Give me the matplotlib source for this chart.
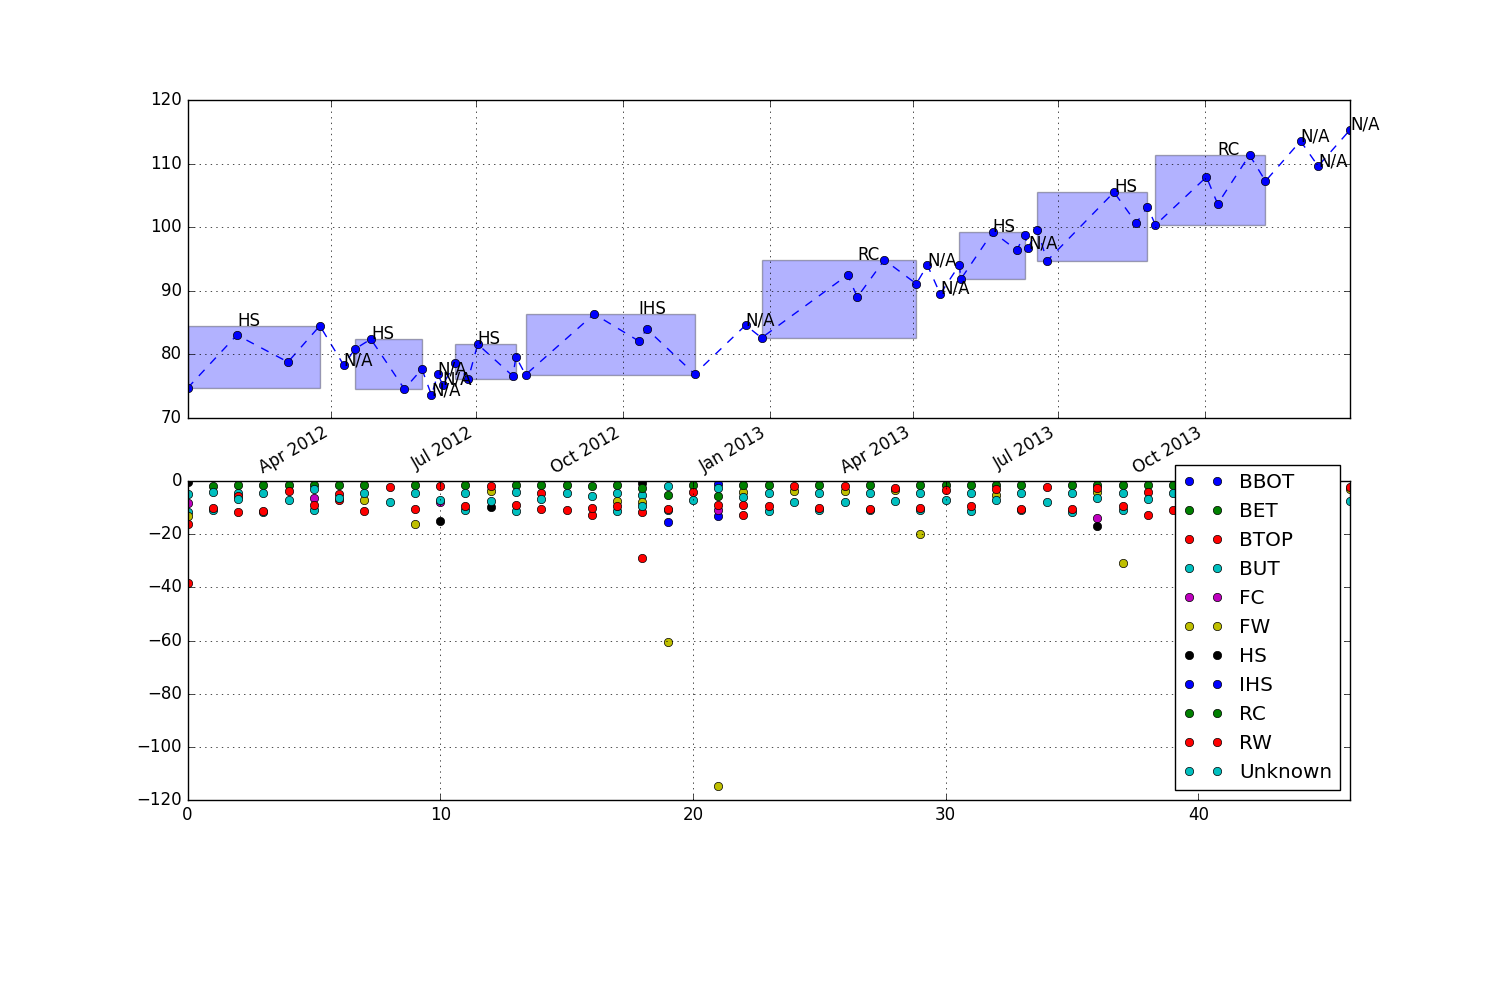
import numpy as np
import matplotlib
matplotlib.use('Agg')
import matplotlib.pyplot as plt
import matplotlib.dates as mdates
from matplotlib.patches import Rectangle
import datetime as dt

plt.style.use('classic')

N = np.nan

# ---------------- top panel data ----------------
date_strs = ['2012-01-02', '2012-02-02', '2012-03-05', '2012-03-25', '2012-04-09',
             '2012-04-16', '2012-04-26', '2012-05-17', '2012-05-28', '2012-06-03',
             '2012-06-07', '2012-06-10', '2012-06-18', '2012-06-26', '2012-07-02',
             '2012-07-24', '2012-07-26', '2012-08-01', '2012-09-13', '2012-10-11',
             '2012-10-16', '2012-11-15', '2012-12-17', '2012-12-27', '2013-02-19',
             '2013-02-25', '2013-03-14', '2013-04-03', '2013-04-10', '2013-04-18',
             '2013-04-30', '2013-05-01', '2013-05-21', '2013-06-05', '2013-06-10',
             '2013-06-12', '2013-06-18', '2013-06-24', '2013-08-05', '2013-08-19',
             '2013-08-26', '2013-08-31', '2013-10-02', '2013-10-09', '2013-10-29',
             '2013-11-08', '2013-11-30', '2013-12-11', '2013-12-31']
prices = [74.7, 83.05, 78.8, 84.5, 78.3,
          80.85, 82.4, 74.56, 77.7, 73.6,
          76.9, 75.2, 78.65, 76.1, 81.6,
          76.6, 79.6, 76.8, 86.35, 82.1,
          84.0, 76.9, 84.6, 82.6, 92.5,
          89.0, 94.85, 91.1, 94.05, 89.5,
          94.05, 91.85, 99.25, 96.4, 98.8,
          96.7, 99.55, 94.7, 105.5, 100.65,
          103.2, 100.35, 107.9, 103.65, 111.35,
          107.25, 113.55, 109.6, 115.3]

pattern_names = ['HS', 'HS', 'HS', 'IHS', 'RC', 'HS', 'HS', 'RC']
pattern_start = [0, 5, 12, 17, 23, 30, 36, 41]
pattern_end = [3, 8, 16, 21, 27, 34, 40, 45]
pattern_label_at = [1, 6, 14, 19, 25, 32, 38, 43]
na_idx = [4, 9, 10, 11, 22, 28, 29, 35, 46, 47, 48]
na_text = 'N/A'

date_ticks_months = [1, 4, 7, 10]

# ---------------- bottom panel data ----------------
series_names = ['BBOT', 'BET', 'BTOP', 'BUT', 'FC', 'FW', 'HS', 'IHS', 'RC', 'RW', 'Unknown']
n_obs = 47

BBOT = [N]*21 + [-13.1] + [N]*25
BET = [N]*19 + [-5.3, N, -5.5] + [N]*25
BTOP = [-38.5, N, -11.5, N, N, N, -7.2, N, N, N,
        N, N, N, N, -10.5, N, -12.7, N, -29.0, N,
        N, N, -12.7, N, N, N, N, N, N, N,
        N, N, N, N, N, N, N, N, -12.7, N,
        N, N, -12.0, N, N, N, N]
BUT = [-11.5, -11.0, -4.5, -11.5, N, -10.9, N, N, N, N,
       N, -11.0, N, -11.4, N, N, N, -11.4, -5.1, -11.0,
       N, N, N, -11.4, N, -11.0, N, -11.0, N, -11.0,
       N, -11.4, N, -11.0, N, -11.8, N, -11.0, N, N,
       N, -11.0, N, -11.0, N, -11.0, N]
FC = [-8.4, N, N, N, N, -6.5, N, N, N, N,
      -8.0, N, N, N, N, N, N, N, N, N,
      N, -11.0, N, N, N, N, N, N, N, N,
      N, N, N, N, N, N, -13.9, N, N, N,
      N, N, N, N, N, N, N]
FW = [-13.0, N, N, N, N, N, N, -7.1, N, -16.3,
      N, N, -3.6, N, N, N, N, -7.4, -8.0, -60.5,
      N, -114.7, -4.3, N, -3.9, N, -3.6, N, -3.3, -20.0,
      N, N, -5.1, N, N, N, -4.3, -31.0, N, N,
      -3.5, N, N, N, -3.5, N, -3.0]
HS = [-0.3, N, N, N, N, N, N, N, N, N,
      -15.0, N, -9.9, N, N, N, N, N, -0.8, N,
      N, N, N, N, N, N, N, N, N, N,
      N, N, N, N, N, N, -17.0, N, N, N,
      N, N, N, N, N, N, N]
IHS = [N]*19 + [-15.4, N, -1.0] + [N]*25
RC = [N, -1.9, -1.6, -1.6, -1.6, -1.5, -1.5, -1.5, N, -1.5,
      N, -1.5, N, -1.5, -1.5, -1.5, -2.0, -1.5, -2.5, N,
      -1.5, N, -1.6, -1.5, N, -1.5, N, -1.5, N, -1.5,
      -1.5, -1.5, -1.5, -1.5, N, -1.5, -1.5, -1.5, -1.5, -1.5,
      N, -1.5, -1.5, -1.5, N, -1.5, N]
RW = [-16.0, -10.2, -5.5, -11.2, -3.6, -8.9, -4.9, -11.2, -2.4, -10.6,
      -1.9, -9.5, -1.9, -8.9, -4.5, -10.9, -10.2, -9.3, -11.5, -10.4,
      -4.0, -9.0, -8.9, -9.5, -2.0, -10.2, -2.0, -10.5, -2.5, -10.3,
      -3.4, -9.5, -3.0, -10.5, -2.3, -10.4, -2.8, -9.3, -4.3, -10.9,
      -2.0, -10.5, -4.0, -10.0, -2.0, -10.5, -2.3]
Unknown = [-4.9, -4.0, -6.8, -4.5, -7.0, -3.0, -6.5, -4.6, -8.0, -4.5,
           -7.1, -4.5, -7.4, -4.3, -6.8, -4.5, -5.5, -4.5, -9.4, -1.8,
           -7.1, -2.6, -6.1, -4.5, -8.0, -4.5, -8.0, -4.5, -7.6, -4.5,
           -7.1, -4.5, -7.1, -4.5, -8.0, -4.5, -6.4, -4.5, -6.8, -4.5,
           -7.5, -4.5, -6.8, -4.5, -7.5, -4.5, -7.6]
series_vals = [BBOT, BET, BTOP, BUT, FC, FW, HS, IHS, RC, RW, Unknown]

# ---------------- figure ----------------
fig = plt.figure(figsize=(15, 10), dpi=100, facecolor='white')
ax1 = fig.add_axes([0.125, 0.582, 0.775, 0.318])
ax2 = fig.add_axes([0.125, 0.2, 0.775, 0.319])

dates = [dt.datetime.strptime(s, '%Y-%m-%d') for s in date_strs]
xnum = mdates.date2num(dates)

ax1.plot(dates, prices, 'bo--')
for name, s, e, li in zip(pattern_names, pattern_start, pattern_end, pattern_label_at):
    seg = prices[s:e + 1]
    lo, hi = min(seg), max(seg)
    ax1.add_patch(Rectangle((xnum[s], lo), xnum[e] - xnum[s], hi - lo,
                            facecolor='b', edgecolor='k', alpha=0.3))
    ax1.text(xnum[li], hi, name)
for i in na_idx:
    ax1.text(xnum[i], prices[i], na_text)

ax1.set_xlim(xnum[0], xnum[-1])
ax1.set_ylim(70, 120)
ax1.xaxis.set_major_locator(mdates.MonthLocator(bymonth=date_ticks_months))
ax1.xaxis.set_major_formatter(mdates.DateFormatter('%b %Y'))
for lab in ax1.get_xticklabels():
    lab.set_rotation(30)
    lab.set_ha('right')
ax1.grid(True)

idx = np.arange(n_obs)
for name, vals in zip(series_names, series_vals):
    ax2.plot(idx, vals, 'o', label=name)
ax2.set_xlim(0, n_obs - 1)
ax2.set_ylim(-120, 0)
ax2.grid(True)
ax2.legend(loc='upper right', bbox_to_anchor=(1.0, 1.08))

fig.savefig('out.png', dpi=100, facecolor='white')
